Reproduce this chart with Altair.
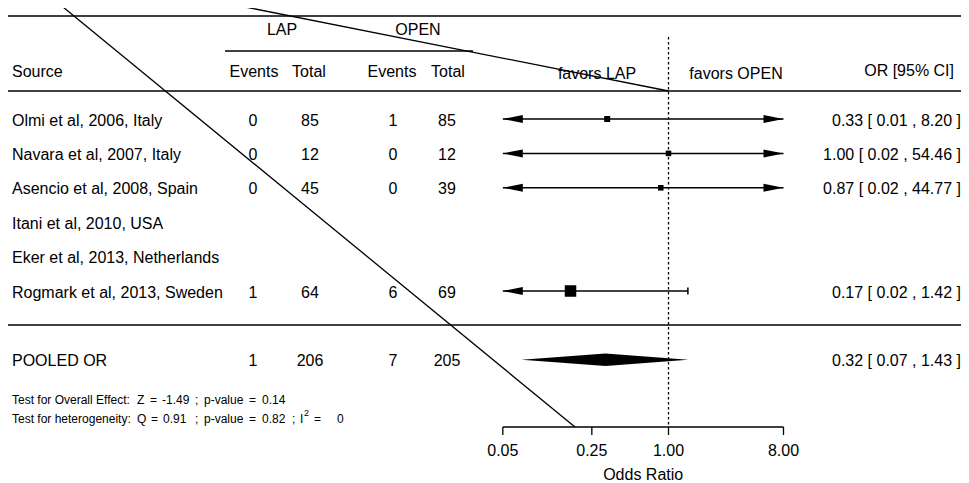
import altair as alt
import pandas as pd
import numpy as np

# ---------------- data ----------------
sources = ["Olmi et al, 2006, Italy", "Navara et al, 2007, Italy", "Asencio et al, 2008, Spain",
           "Itani et al, 2010, USA", "Eker et al, 2013, Netherlands", "Rogmark et al, 2013, Sweden"]
lap_events = [0, 0, 0, None, None, 1]
lap_total = [85, 12, 45, None, None, 64]
open_events = [1, 0, 0, None, None, 6]
open_total = [85, 12, 39, None, None, 69]
or_est = [0.33, 1.00, 0.87, None, None, 0.17]
ci_low = [0.01, 0.02, 0.02, None, None, 0.02]
ci_high = [8.20, 54.46, 44.77, None, None, 1.42]
rel_weight = [0.52, 0.48, 0.48, None, None, 1.0]

pooled_label = "POOLED OR"
pooled_counts = [1, 206, 7, 205]
pooled_or = [0.32, 0.07, 1.43]

test_overall = ["Test for Overall Effect:", "Z", "=", "-1.49", ";", "p-value", "=", "0.14"]
test_het = ["Test for heterogeneity:", "Q", "=", "0.91", ";", "p-value", "=", "0.82", ";", "I", "=", "0"]
test_het_sup = "2"

axis_ticks = [0.05, 0.25, 1.00, 8.00]
axis_limits = [0.05, 8.00]

# ---------------- layout (page pixels -> plot units) ----------------
W, H = 953, 475
S = 55.3      # px per ln(OR)
X0 = 668.5    # page x of OR = 1
ROW0, ROWH = 119.0, 34.4


def ux(px):
    return (px - X0) / S


def ry(py):
    return 1 + (py - ROW0) / ROWH


xscale = alt.Scale(domain=[ux(8), ux(8 + W)], nice=False, zero=False)
yscale = alt.Scale(domain=[ry(8), ry(8 + H)], nice=False, zero=False, reverse=True)
FONT = "Liberation Sans"


def X(f="x"):
    return alt.X(f, type="quantitative", scale=xscale, axis=None)


def Y(f="y"):
    return alt.Y(f, type="quantitative", scale=yscale, axis=None)


rows = list(range(1, 7))
pooled_row = 8
col_x = [ux(253), ux(310), ux(393), ux(447)]
lo_lim, hi_lim = np.log(axis_limits[0]), np.log(axis_limits[1])

# ---------------- lines ----------------
hl = pd.DataFrame({
    "x": [ux(7), ux(7), ux(7), ux(225)],
    "x2": [ux(969), ux(969), ux(969), ux(473)],
    "y": [ry(16), ry(91), ry(325), ry(51)],
})
hlines = alt.Chart(hl).mark_rule(color="black", strokeWidth=1.5).encode(x=X(), x2="x2", y=Y())

ref = pd.DataFrame({"x": [0.0], "y": [ry(37)], "y2": [ry(427)]})
refline = alt.Chart(ref).mark_rule(color="black", strokeWidth=1.3, strokeDash=[2.5, 2.5]).encode(
    x=X(), y=Y(), y2="y2")

diag = pd.DataFrame({
    "x": [ux(63), ux(245)], "y": [ry(7), ry(7)],
    "x2": [ux(575), ux(668.5)], "y2": [ry(427), ry(91)],
})
diaglines = alt.Chart(diag).mark_rule(color="black", strokeWidth=1.3).encode(
    x=X(), y=Y(), x2="x2", y2="y2")

# ---------------- study estimates ----------------
st = pd.DataFrame({"row": rows, "est": or_est, "lo": ci_low, "hi": ci_high, "w": rel_weight})
st = st.dropna().copy()
st["lest"] = np.log(st["est"])
st["llo"] = np.log(st["lo"])
st["lhi"] = np.log(st["hi"])
st["cx"] = st["llo"].clip(lower=lo_lim)
st["cx2"] = st["lhi"].clip(upper=hi_lim)
st["size"] = (st["w"] * 11.5) ** 2

ci = alt.Chart(st).mark_rule(color="black", strokeWidth=1.5).encode(
    x=X("cx"), x2="cx2", y=Y("row"))

la = st[st["llo"] < lo_lim].assign(ax=lo_lim)
ra = st[st["lhi"] > hi_lim].assign(ax=hi_lim)
larrow = alt.Chart(la).mark_point(shape="M0,0L4,-0.8L4,0.8Z", size=100, filled=True,
                                  color="black", opacity=1, strokeWidth=0).encode(x=X("ax"), y=Y("row"))
rarrow = alt.Chart(ra).mark_point(shape="M0,0L-4,-0.8L-4,0.8Z", size=100, filled=True,
                                  color="black", opacity=1, strokeWidth=0).encode(x=X("ax"), y=Y("row"))

lt = st[st["llo"] >= lo_lim].assign(tx=lambda d: d["llo"])
rt = st[st["lhi"] <= hi_lim].assign(tx=lambda d: d["lhi"])
endt = pd.concat([lt, rt])
endt["ya"] = endt["row"] - 0.1
endt["yb"] = endt["row"] + 0.1
endticks = alt.Chart(endt).mark_rule(color="black", strokeWidth=1.5).encode(
    x=X("tx"), y=Y("ya"), y2="yb")

squares = alt.Chart(st).mark_square(color="black", opacity=1, filled=True).encode(
    x=X("lest"), y=Y("row"), size=alt.Size("size:Q", scale=None, legend=None))

# ---------------- pooled diamond ----------------
pe, pl, ph = np.log(pooled_or[0]), np.log(pooled_or[1]), np.log(pooled_or[2])
dh = 0.18
dia = pd.DataFrame({"x": [pl, pe, ph], "y": [pooled_row, pooled_row - dh, pooled_row],
                    "y2": [pooled_row, pooled_row + dh, pooled_row]})
diamond = alt.Chart(dia).mark_area(color="black", opacity=1, orient="vertical").encode(
    x=X(), y=Y(), y2="y2")

# ---------------- manual axis ----------------
ay = ry(427)
axl = pd.DataFrame({"x": [lo_lim], "x2": [hi_lim], "y": [ay]})
axline = alt.Chart(axl).mark_rule(color="black", strokeWidth=1.3).encode(x=X(), x2="x2", y=Y())
tk = pd.DataFrame({"v": axis_ticks})
tk["x"] = np.log(tk["v"])
tk["y"] = ay
tk["y2"] = ay + 8 / ROWH
ticks = alt.Chart(tk).mark_rule(color="black", strokeWidth=1.3).encode(x=X(), y=Y(), y2="y2")

# ---------------- text ----------------
def fmt(v):
    return "" if v is None or (isinstance(v, float) and np.isnan(v)) else str(int(v))


left16 = pd.DataFrame({
    "x": [ux(12)] * 8,
    "y": [ry(70)] + rows + [pooled_row],
    "t": ["Source"] + sources + [pooled_label],
})

cx, cy, ctext = [], [], []
hdr = [("LAP", 282, 28), ("OPEN", 418, 28), ("Events", 254, 70), ("Total", 309, 70),
       ("Events", 392, 70), ("Total", 448, 70), ("favors LAP", 597, 72), ("favors OPEN", 736, 72)]
for t, px, py in hdr:
    cx.append(ux(px)); cy.append(ry(py)); ctext.append(t)
for i, r in enumerate(rows):
    for j, arr in enumerate([lap_events, lap_total, open_events, open_total]):
        s = fmt(arr[i])
        if s:
            cx.append(col_x[j]); cy.append(r); ctext.append(s)
for j, v in enumerate(pooled_counts):
    cx.append(col_x[j]); cy.append(pooled_row); ctext.append(str(v))
for v in axis_ticks:
    cx.append(np.log(v)); cy.append(ry(449)); ctext.append(f"{v:.2f}")
cx.append((lo_lim + hi_lim) / 2); cy.append(ry(473)); ctext.append("Odds Ratio")
center16 = pd.DataFrame({"x": cx, "y": cy, "t": ctext})

rx, ryy, rtext = [ux(954)], [ry(69)], ["OR [95% CI]"]
for i, r in enumerate(rows):
    if or_est[i] is not None:
        rx.append(ux(961)); ryy.append(r)
        rtext.append(f"{or_est[i]:.2f} [ {ci_low[i]:.2f} , {ci_high[i]:5.2f} ]")
rx.append(ux(961)); ryy.append(pooled_row)
rtext.append(f"{pooled_or[0]:.2f} [ {pooled_or[1]:.2f} , {pooled_or[2]:5.2f} ]")
right16 = pd.DataFrame({"x": rx, "y": ryy, "t": rtext})

ov_px = [12, 137, 150, 162, 195, 204, 249, 262]
he_px = [12, 137, 151, 163, 195, 204, 249, 262, 292, 300, 314, 337]
left12 = pd.DataFrame({
    "x": [ux(p) for p in ov_px] + [ux(p) for p in he_px],
    "y": [ry(398)] * len(ov_px) + [ry(417)] * len(he_px),
    "t": test_overall + test_het,
})
sup = pd.DataFrame({"x": [ux(304)], "y": [ry(411)], "t": [test_het_sup]})


def txt(df, align, size, dy=1.5):
    return alt.Chart(df).mark_text(align=align, baseline="middle", font=FONT, fontSize=size,
                                   color="black", dy=dy).encode(x=X(), y=Y(), text="t:N")


chart = alt.layer(
    hlines, refline, ci, larrow, rarrow, endticks, squares, diamond, axline, ticks,
    txt(left16, "left", 16), txt(center16, "center", 16), txt(right16, "right", 16),
    txt(left12, "left", 12), txt(sup, "left", 9),
    diaglines,
).properties(width=W, height=H, padding=0, autosize="none", background="white").configure_view(stroke=None)

chart.save("out.html", embed_options={"renderer": "svg", "actions": False})
